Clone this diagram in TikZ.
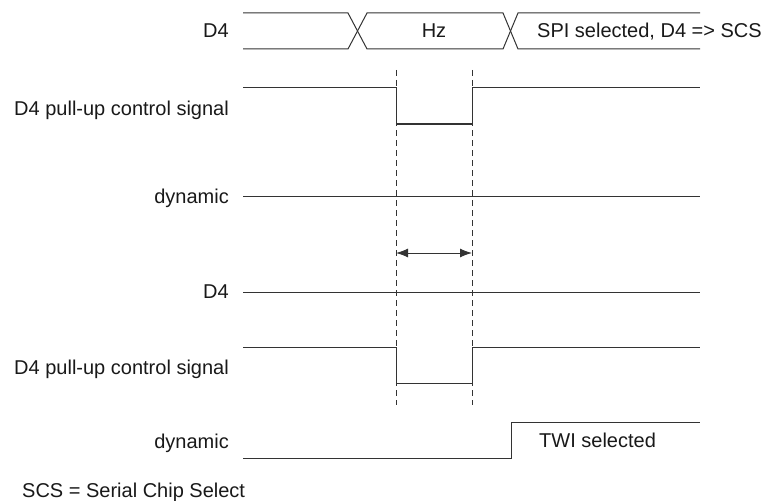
\documentclass[tikz,border=0pt]{standalone}
\usepackage{fontspec}
\setmainfont{Liberation Sans}
\usetikzlibrary{arrows.meta}
\begin{document}
\begin{tikzpicture}
	[
		x=1pt, y=-1pt,
		every node/.style = {
			font=\fontsize{20}{24}\selectfont,
			inner sep=0pt, text=black!90
		},
		siglabel/.style = {anchor=base east},
		wave/.style = {draw=black!80, line width=1pt, line join=miter},
		marker/.style = {draw=black!80, line width=1pt, dash pattern=on 6pt off 4pt},
		span/.style = {draw=black!80, line width=1pt, {Latex[length=12pt,width=9pt]}-{Latex[length=12pt,width=9pt]}}
	]
	\useasboundingbox (0,0) rectangle (762,500);
	% labels
	\node[siglabel] (busname) at (229,38) {D4};
	\node[siglabel] (pull1) at (229,115) {D4 pull-up control signal};
	\node[siglabel] (dyn1) at (229,203) {dynamic};
	\node[siglabel] (pin2) at (229,298) {D4};
	\node[siglabel] (pull2) at (229,374) {D4 pull-up control signal};
	\node[siglabel] (dyn2) at (229,448) {dynamic};
	\node[anchor=base west] (note) at (22,497) {SCS = Serial Chip Select};
	% bus
	\draw[wave] (243,13) -- (348,13) -- (367,49) -- (503,49) -- (518,13) -- (700,13);
	\draw[wave] (243,49) -- (348,49) -- (367,13) -- (503,13) -- (518,49) -- (700,49);
	\node[anchor=base] (hz) at (434,38) {Hz};
	\node[anchor=base west] (spi) at (537,38) {SPI selected, D4 => SCS};
	% first case
	\draw[wave] (243,88) -- (396,88) -- (396,124);
	\draw[wave, line width=2pt] (396,124) -- (472,124);
	\draw[wave] (472,124) -- (472,88) -- (700,88);
	\draw[wave] (243,196) -- (700,196);
	% second case
	\draw[wave] (243,292) -- (700,292);
	\draw[wave] (243,347) -- (396,347) -- (396,383) -- (472,383) -- (472,347) -- (700,347);
	\draw[wave] (243,458) -- (511,458) -- (511,422) -- (700,422);
	\node[anchor=base west] (twi) at (539,447) {TWI selected};
	% markers
	\coordinate (m1top) at (396,70);
	\coordinate (m1bot) at (396,405);
	\coordinate (m2top) at (472,70);
	\coordinate (m2bot) at (472,405);
	\draw[marker] (m1top) -- (m1bot);
	\draw[marker] (m2top) -- (m2bot);
	\coordinate (a1) at (396,253);
	\coordinate (a2) at (472,253);
	\draw[span] (a1) -- (a2);
\end{tikzpicture}
\end{document}
